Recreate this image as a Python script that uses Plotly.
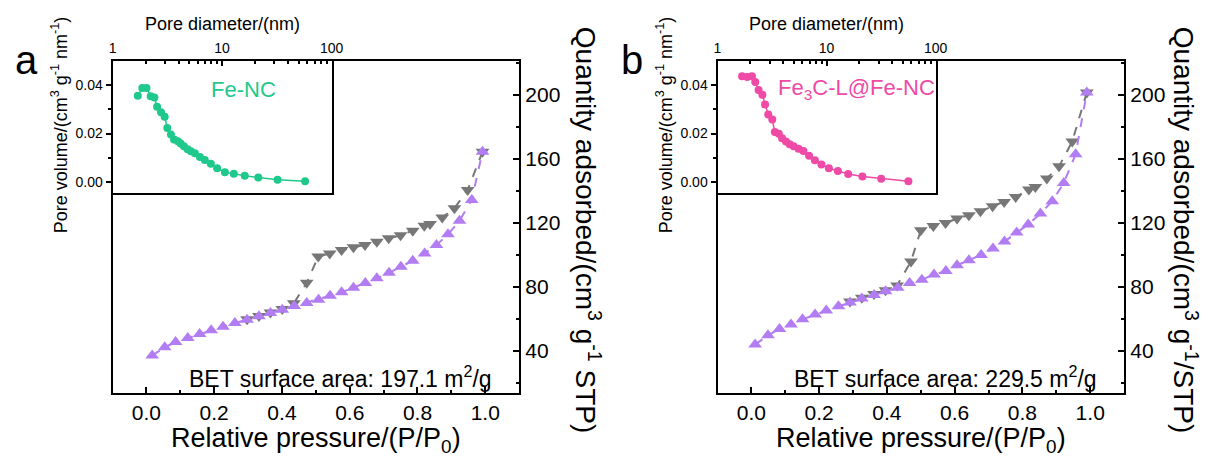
import plotly.graph_objects as go

W, H = 1218, 459

# ---------------- data ----------------
# Panel a: Fe-NC
a_ads_p = [0.017, 0.054, 0.086, 0.122, 0.157, 0.191, 0.226, 0.261, 0.297, 0.332, 0.366, 0.401, 0.436,
           0.473, 0.508, 0.542, 0.576, 0.611, 0.646, 0.680, 0.716, 0.751, 0.786, 0.821, 0.856, 0.890,
           0.924, 0.960, 0.992]
a_ads_q = [37.2, 42.3, 45.6, 48.1, 50.6, 52.9, 55.2, 57.5, 59.6, 61.7, 63.8, 65.8, 68.1,
           70.0, 72.1, 74.6, 76.7, 79.6, 82.5, 85.4, 88.9, 92.7, 96.4, 101.0, 106.3, 112.9,
           121.4, 134.4, 164.6]
a_des_p = [0.992, 0.948, 0.909, 0.873, 0.837, 0.820, 0.786, 0.750, 0.715, 0.680, 0.645, 0.611, 0.576,
           0.541, 0.507, 0.473, 0.435, 0.401, 0.366, 0.332, 0.297]
a_des_q = [164.6, 140.6, 129.2, 123.5, 119.4, 118.3, 115.2, 112.3, 110.4, 108.3, 106.3, 104.8, 103.1,
           101.0, 99.0, 82.7, 69.8, 66.3, 64.0, 61.9, 59.9]
a_pore_d = [1.70, 1.87, 2.04, 2.23, 2.41, 2.55, 2.77, 2.99, 3.16, 3.41, 3.64, 3.95, 4.18, 4.48, 4.84,
            5.19, 5.64, 6.27, 6.95, 7.89, 9.01, 10.6, 12.8, 16.1, 21.4, 32.1, 57.2]
a_pore_v = [0.0356, 0.0388, 0.0388, 0.0354, 0.0349, 0.0310, 0.0288, 0.0269, 0.0223, 0.0196, 0.0175,
            0.0168, 0.0159, 0.0148, 0.0135, 0.0127, 0.0119, 0.0103, 0.0091, 0.0076, 0.0057, 0.0041,
            0.0034, 0.0026, 0.0019, 0.0010, 0.0003]

# Panel b: Fe3C-L@Fe-NC
b_ads_p = [0.011, 0.049, 0.083, 0.117, 0.151, 0.188, 0.221, 0.257, 0.291, 0.326, 0.362, 0.396, 0.432,
           0.467, 0.503, 0.539, 0.574, 0.607, 0.642, 0.678, 0.713, 0.747, 0.783, 0.817, 0.853, 0.888,
           0.922, 0.957, 0.990]
b_ads_q = [44.0, 49.8, 53.8, 56.5, 59.8, 62.8, 65.3, 67.9, 70.3, 72.8, 75.0, 77.3, 79.6,
           82.5, 84.6, 87.8, 90.0, 93.6, 96.7, 100.0, 104.0, 108.4, 114.0, 119.0, 125.9, 133.6,
           145.0, 163.0, 201.6]
b_des_p = [0.990, 0.947, 0.908, 0.872, 0.838, 0.819, 0.780, 0.746, 0.712, 0.676, 0.642, 0.607, 0.573,
           0.537, 0.500, 0.471, 0.430, 0.396, 0.362, 0.326, 0.291]
b_des_q = [201.6, 171.0, 155.4, 147.8, 142.5, 140.9, 136.3, 133.1, 130.4, 127.3, 124.8, 122.8, 120.0,
           118.1, 115.4, 96.0, 81.0, 78.0, 75.6, 73.3, 71.0]
b_pore_d = [1.68, 1.87, 2.07, 2.22, 2.38, 2.58, 2.73, 2.92, 3.18, 3.36, 3.65, 3.91, 4.25, 4.59, 4.99,
            5.53, 6.14, 6.91, 7.82, 8.98, 10.5, 12.7, 15.8, 21.3, 31.7, 56.3]
b_pore_v = [0.0436, 0.0433, 0.0436, 0.0412, 0.0379, 0.0360, 0.0320, 0.0279, 0.0258, 0.0206, 0.0199,
            0.0181, 0.0167, 0.0156, 0.0148, 0.0137, 0.0128, 0.0109, 0.0090, 0.0072, 0.0057, 0.0046,
            0.0033, 0.0023, 0.0014, 0.0003]

x_ticks = [0.0, 0.2, 0.4, 0.6, 0.8, 1.0]
y_ticks = [40, 80, 120, 160, 200]
inset_x_ticks = [1, 10, 100]
inset_y_ticks = [0.00, 0.02, 0.04]

PURPLE = "#b27cf2"
GRAY = "#777777"
GREEN = "#1fc98c"
PINK = "#ee4aa6"
FONT = "Liberation Sans, Arial, sans-serif"


def px_x(p):
    return p / W


def px_y(p):
    return 1 - p / H


fig = go.Figure()

panels = [
    dict(ads=(a_ads_p, a_ads_q), des=(a_des_p, a_des_q), pore=(a_pore_d, a_pore_v), col=GREEN,
         left=110, right=522, inright=332, name="Fe-NC", bet="197.1", letter="a", ytitle_x=592,
         ytitle="Quantity adsorbed/(cm<sup>3</sup> g<sup>-1</sup> STP)", name_dx=22),
    dict(ads=(b_ads_p, b_ads_q), des=(b_des_p, b_des_q), pore=(b_pore_d, b_pore_v), col=PINK,
         left=723, right=1135, inright=944, name="Fe<sub>3</sub>C-L@Fe-NC", bet="229.5", letter="b",
         ytitle_x=1197, ytitle="Quantity adsorbed/(cm<sup>3</sup> g<sup>-1</sup>/STP)", name_dx=30),
]

TOP, BOT, INBOT = 61, 393, 193

for i, pn in enumerate(panels):
    mx = "x" if i == 0 else "x3"
    my = "y" if i == 0 else "y3"
    ix = "x2" if i == 0 else "x4"
    iy = "y2" if i == 0 else "y4"
    mxk = "xaxis" if i == 0 else "xaxis3"
    myk = "yaxis" if i == 0 else "yaxis3"
    ixk = "xaxis2" if i == 0 else "xaxis4"
    iyk = "yaxis2" if i == 0 else "yaxis4"

    fig.add_trace(go.Scatter(x=pn["des"][0], y=pn["des"][1], xaxis=mx, yaxis=my, mode="lines+markers",
                             line=dict(color=GRAY, width=2, dash="dash"),
                             marker=dict(symbol="triangle-down", size=12, color=GRAY), showlegend=False))
    fig.add_trace(go.Scatter(x=pn["ads"][0], y=pn["ads"][1], xaxis=mx, yaxis=my, mode="lines+markers",
                             line=dict(color=PURPLE, width=2, dash="dash"),
                             marker=dict(symbol="triangle-up", size=12, color=PURPLE), showlegend=False))
    fig.add_trace(go.Scatter(x=pn["pore"][0], y=pn["pore"][1], xaxis=ix, yaxis=iy, mode="lines+markers",
                             line=dict(color=pn["col"], width=1.5),
                             marker=dict(symbol="circle", size=8, color=pn["col"]), showlegend=False))

    fig.update_layout(**{
        mxk: dict(domain=[px_x(pn["left"]), px_x(pn["right"])], range=[-0.1, 1.1], anchor=my,
                  showline=True, mirror=True, linecolor="black", linewidth=2, showgrid=False, zeroline=False,
                  tickvals=x_ticks, ticktext=[f"{v:.1f}" for v in x_ticks], ticks="inside", ticklen=6,
                  tickwidth=2, tickcolor="black",
                  minor=dict(dtick=0.1, ticks="inside", ticklen=3, tickwidth=2, tickcolor="black", showgrid=False),
                  tickfont=dict(family=FONT, size=21, color="black")),
        myk: dict(domain=[px_y(BOT), px_y(TOP)], range=[13.75, 221.25], anchor=mx, side="right",
                  showline=True, mirror=True, linecolor="black", linewidth=2, showgrid=False, zeroline=False,
                  tickvals=y_ticks, ticks="inside", ticklen=6, tickwidth=2, tickcolor="black",
                  minor=dict(dtick=20, tick0=0, ticks="inside", ticklen=3, tickwidth=2, tickcolor="black",
                             showgrid=False),
                  tickfont=dict(family=FONT, size=21, color="black")),
        ixk: dict(domain=[px_x(pn["left"]), px_x(pn["inright"])], type="log", range=[0, 2], anchor=iy,
                  side="top", showline=True, mirror=True, linecolor="black", linewidth=2, showgrid=False,
                  zeroline=False, tickvals=inset_x_ticks, ticktext=[str(v) for v in inset_x_ticks],
                  ticks="inside", ticklen=5, tickwidth=2, tickcolor="black",
                  minor=dict(tickvals=[2, 3, 4, 5, 6, 7, 8, 9, 20, 30, 40, 50, 60, 70, 80, 90], ticks="inside",
                             ticklen=3, tickwidth=1.5, tickcolor="black", showgrid=False),
                  tickfont=dict(family=FONT, size=14, color="black")),
        iyk: dict(domain=[px_y(INBOT), px_y(TOP)], range=[-0.0045, 0.0499], anchor=ix,
                  showline=True, mirror=True, linecolor="black", linewidth=2, showgrid=False, zeroline=False,
                  tickvals=inset_y_ticks, ticktext=[f"{v:.2f}" for v in inset_y_ticks],
                  ticks="outside", ticklen=5, tickwidth=2, tickcolor="black",
                  minor=dict(tickvals=[0.01, 0.03], ticks="outside", ticklen=3, tickwidth=2, tickcolor="black",
                             showgrid=False),
                  tickfont=dict(family=FONT, size=14, color="black")),
    })

    inset_cx = (pn["left"] + pn["inright"]) / 2
    # inset white background
    fig.add_shape(type="rect", xref="paper", yref="paper", x0=px_x(pn["left"]), x1=px_x(pn["inright"]),
                  y0=px_y(INBOT), y1=px_y(TOP), fillcolor="white", line=dict(width=0), layer="below")

    anns = [
        dict(x=px_x(pn["left"] - 87), y=px_y(60), text=pn["letter"], font=dict(size=40, color="black")),
        dict(x=px_x(inset_cx), y=px_y(24), text="Pore diameter/(nm)", font=dict(size=18, color="black")),
        dict(x=px_x(pn["left"] - 54), y=px_y(125), text="Pore volume/(cm<sup>3</sup> g<sup>-1</sup> nm<sup>-1</sup>)",
             textangle=-90, font=dict(size=18, color="black")),
        dict(x=px_x(pn["ytitle_x"]), y=px_y(230), text=pn["ytitle"], textangle=90,
             font=dict(size=28, color="black")),
        dict(x=px_x((pn["left"] + pn["right"]) / 2), y=px_y(440), text="Relative pressure/(P/P<sub>0</sub>)",
             font=dict(size=27, color="black")),
        dict(x=px_x(pn["right"] - 25), y=px_y(377), xanchor="right",
             text=f"BET surface area: {pn['bet']} m<sup>2</sup>/g", font=dict(size=23, color="black")),
        dict(x=px_x(inset_cx + pn["name_dx"]), y=px_y(89), text=pn["name"],
             font=dict(size=22, color=pn["col"])),
    ]
    for a in anns:
        a.setdefault("xanchor", "center")
        a.update(xref="paper", yref="paper", showarrow=False, yanchor="middle")
        a["font"]["family"] = FONT
        fig.add_annotation(**a)

fig.update_layout(width=W, height=H, autosize=False, margin=dict(l=0, r=0, t=0, b=0),
                  paper_bgcolor="white", plot_bgcolor="rgba(0,0,0,0)", font=dict(family=FONT))

fig.write_html("out.html")
